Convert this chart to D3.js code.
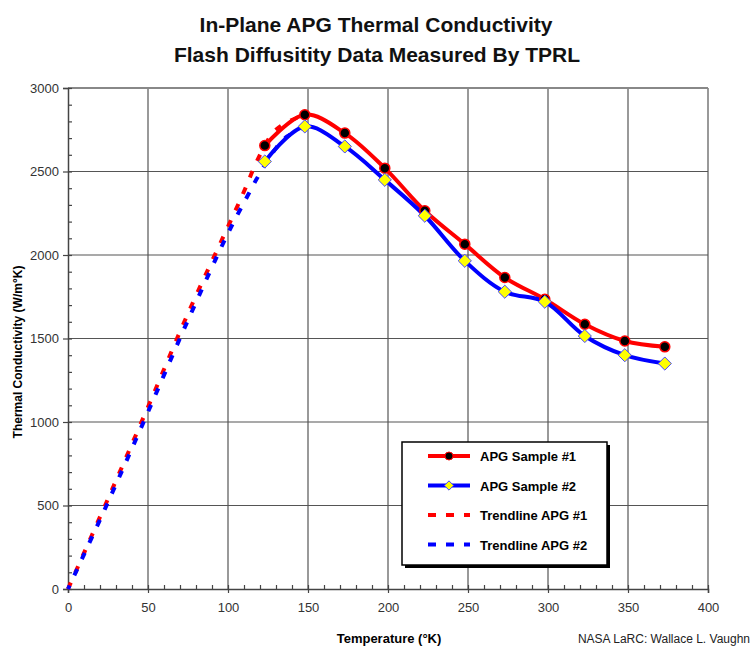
<!DOCTYPE html>
<html>
<head>
<meta charset="utf-8">
<script src="https://cdn.jsdelivr.net/npm/d3@7"></script>
<style>
  body { margin: 0; background: #fff; }
  text { font-family: "Liberation Sans Narrow", "Arial Narrow", "Liberation Sans", Arial, sans-serif; }
</style>
</head>
<body>
<div id="chart-area"></div>
<script>
// Data
var temps = [123, 148, 173, 198, 223, 248, 273, 298, 323, 348, 373];
var sample1 = [2655, 2840, 2730, 2520, 2265, 2065, 1865, 1735, 1585, 1485, 1450];
var sample2 = [2560, 2770, 2650, 2450, 2235, 1965, 1780, 1720, 1515, 1400, 1350];

var trend1T = [0, 25, 50, 75, 100, 110, 118, 128, 136, 148];
var trend1K = [0, 540, 1090, 1650, 2170, 2380, 2560, 2730, 2790, 2840];
var trend2T = [0, 25, 50, 75, 100, 112, 120, 130, 137, 148];
var trend2K = [0, 520, 1060, 1610, 2130, 2350, 2490, 2640, 2710, 2770];

var xTicks = [0, 50, 100, 150, 200, 250, 300, 350, 400];
var yTicks = [0, 500, 1000, 1500, 2000, 2500, 3000];
var legendLabels = ["APG Sample #1", "APG Sample #2", "Trendline APG #1", "Trendline APG #2"];

var width = 752, height = 649;
var plot = { left: 68, right: 708, top: 88, bottom: 589 };

var svg = d3.select("#chart-area")
    .append("svg")
    .attr("width", width)
    .attr("height", height);

var x = d3.scaleLinear().domain([0, 400]).range([plot.left, plot.right]);
var y = d3.scaleLinear().domain([0, 3000]).range([plot.bottom, plot.top]);

// Title
var title = svg.append("text")
    .attr("x", 378)
    .attr("text-anchor", "middle")
    .attr("font-size", "21px")
    .attr("font-weight", "bold")
    .attr("fill", "#111");
title.append("tspan").attr("x", 376).attr("y", 32).text("In-Plane APG Thermal Conductivity");
title.append("tspan").attr("x", 377).attr("y", 62).text("Flash Diffusitity Data Measured By TPRL");

// Grid
var grid = svg.append("g").attr("class", "grid");
grid.selectAll(".vline")
    .data(xTicks.slice(1))
    .enter().append("line")
    .attr("x1", function(d){ return x(d); })
    .attr("x2", function(d){ return x(d); })
    .attr("y1", plot.top)
    .attr("y2", plot.bottom)
    .attr("stroke", function(d){ return d == 400 ? "#999" : "#555"; })
    .attr("stroke-width", function(d){ return d == 400 ? 2 : 1.2; });
grid.selectAll(".hline")
    .data(yTicks.slice(1))
    .enter().append("line")
    .attr("x1", plot.left)
    .attr("x2", plot.right)
    .attr("y1", function(d){ return y(d); })
    .attr("y2", function(d){ return y(d); })
    .attr("stroke", function(d){ return d == 3000 ? "#888" : "#555"; })
    .attr("stroke-width", function(d){ return d == 3000 ? 2 : 1.2; });

// X-axis
var xAxisCall = d3.axisBottom(x)
    .tickValues(xTicks)
    .tickFormat(d3.format("d"))
    .tickSize(4)
    .tickPadding(10);
var xAxis = svg.append("g")
    .attr("class", "x axis")
    .attr("transform", "translate(0," + plot.bottom + ")")
    .call(xAxisCall);
var xMinor = d3.axisBottom(x)
    .tickValues(d3.range(0, 401, 10))
    .tickSize(-4)
    .tickFormat("");
svg.append("g")
    .attr("transform", "translate(0," + plot.bottom + ")")
    .call(xMinor)
    .select(".domain").remove();

// Y-axis
var yAxisCall = d3.axisLeft(y)
    .tickValues(yTicks)
    .tickFormat(d3.format("d"))
    .tickSize(5)
    .tickPadding(4);
var yAxis = svg.append("g")
    .attr("class", "y axis")
    .attr("transform", "translate(" + plot.left + ",0)")
    .call(yAxisCall);
var yMinor = d3.axisLeft(y)
    .tickValues(d3.range(0, 3001, 100))
    .tickSize(-4)
    .tickFormat("");
svg.append("g")
    .attr("transform", "translate(" + plot.left + ",0)")
    .call(yMinor)
    .select(".domain").remove();

svg.selectAll(".axis .domain").attr("stroke", "#444").attr("stroke-width", 1.5);
svg.selectAll(".tick line").attr("stroke", "#444").attr("stroke-width", 1.2);
svg.selectAll(".axis .tick text")
    .attr("font-size", "13px")
    .attr("fill", "#333")
    .style("font-family", "'Liberation Sans Narrow', 'Arial Narrow', 'Liberation Sans', sans-serif");

// Labels
svg.append("text")
    .attr("x", 389)
    .attr("y", 643)
    .attr("font-size", "13px")
    .attr("font-weight", "bold")
    .attr("text-anchor", "middle")
    .text("Temperature (°K)");
svg.append("text")
    .attr("transform", "rotate(-90)")
    .attr("x", -352)
    .attr("y", 22)
    .attr("font-size", "12px")
    .attr("font-weight", "bold")
    .attr("text-anchor", "middle")
    .style("font-family", "'Liberation Sans', Arial, sans-serif")
    .text("Thermal Conductivity (W/m°K)");
svg.append("text")
    .attr("x", 750)
    .attr("y", 643)
    .attr("font-size", "12px")
    .attr("text-anchor", "end")
    .attr("fill", "#222")
    .text("NASA LaRC: Wallace L. Vaughn");

// Lines
var toPts = function(xs, ys){ return xs.map(function(d, i){ return [d, ys[i]]; }); };
var line = d3.line()
    .x(function(d){ return x(d[0]); })
    .y(function(d){ return y(d[1]); })
    .curve(d3.curveCatmullRom.alpha(0.5));

var g = svg.append("g");
g.append("path")
    .attr("d", line(toPts(trend1T, trend1K)))
    .attr("fill", "none")
    .attr("stroke", "#ff0000")
    .attr("stroke-width", 4)
    .attr("stroke-dasharray", "7,11");
g.append("path")
    .attr("d", line(toPts(trend2T, trend2K)))
    .attr("fill", "none")
    .attr("stroke", "#0000ff")
    .attr("stroke-width", 4)
    .attr("stroke-dasharray", "7,11")
    .attr("stroke-dashoffset", 3);
g.append("path")
    .attr("d", line(toPts(temps, sample1)))
    .attr("fill", "none")
    .attr("stroke", "#ff0000")
    .attr("stroke-width", 4);
g.append("path")
    .attr("d", line(toPts(temps, sample2)))
    .attr("fill", "none")
    .attr("stroke", "#0000ff")
    .attr("stroke-width", 4);

// Markers
g.selectAll(".dot1")
    .data(toPts(temps, sample1))
    .enter().append("circle")
    .attr("cx", function(d){ return x(d[0]); })
    .attr("cy", function(d){ return y(d[1]); })
    .attr("r", 5)
    .attr("fill", "#000")
    .attr("stroke", "#ff0000")
    .attr("stroke-width", 1.5);
var diamond = d3.symbol().type(d3.symbolDiamond2).size(110);
g.selectAll(".dot2")
    .data(toPts(temps, sample2))
    .enter().append("path")
    .attr("d", diamond)
    .attr("transform", function(d){ return "translate(" + x(d[0]) + "," + y(d[1]) + ")"; })
    .attr("fill", "#ffff00")
    .attr("stroke", "#4444ff")
    .attr("stroke-width", 1);

// Legend
var legend = svg.append("g").attr("transform", "translate(402,442)");
legend.append("rect")
    .attr("x", 3).attr("y", 3)
    .attr("width", 205).attr("height", 123)
    .attr("fill", "#000");
legend.append("rect")
    .attr("width", 205).attr("height", 123)
    .attr("fill", "#fff")
    .attr("stroke", "#000")
    .attr("stroke-width", 1.5);
var legendColors = ["#ff0000", "#0000ff", "#ff0000", "#0000ff"];
legendLabels.forEach(function(lab, i){
    var ly = 14 + i * 29.5;
    legend.append("line")
        .attr("x1", 26).attr("x2", 68)
        .attr("y1", ly).attr("y2", ly)
        .attr("stroke", legendColors[i])
        .attr("stroke-width", 4)
        .attr("stroke-dasharray", i > 1 ? "8,10" : null);
    if (i == 0) {
        legend.append("circle")
            .attr("cx", 47).attr("cy", ly).attr("r", 4)
            .attr("fill", "#000").attr("stroke", "#ff0000");
    }
    if (i == 1) {
        legend.append("path")
            .attr("d", d3.symbol().type(d3.symbolDiamond2).size(55))
            .attr("transform", "translate(47," + ly + ")")
            .attr("fill", "#ffff00").attr("stroke", "#4444ff");
    }
    legend.append("text")
        .attr("x", 78)
        .attr("y", ly + 5)
        .attr("font-size", "13px")
        .attr("font-weight", "bold")
        .text(lab);
});
</script>
</body>
</html>
